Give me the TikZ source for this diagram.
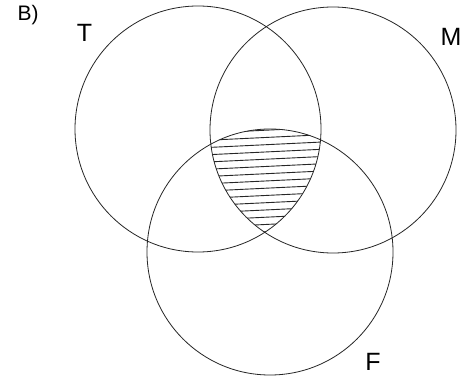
\documentclass[tikz,border=0pt]{standalone}
\usepackage{fontspec}
\setmainfont{Liberation Sans}
\begin{document}
\begin{tikzpicture}[x=1pt,y=-1pt,
  setcircle/.style={circle,draw=black!85,line width=0.8pt,minimum size=246pt,inner sep=0pt},
  biglabel/.style={font=\fontsize{25}{29}\selectfont,inner sep=0pt},
  hatchline/.style={draw=black!85,line width=0.9pt}]
\useasboundingbox (0,0) rectangle (465,377);
\fill[white] (0,0) rectangle (465,377);
% circles
\node[setcircle] (T) at (198,129) {};
\node[setcircle] (M) at (333,130) {};
\node[setcircle] (F) at (270,252) {};
% hatching of T ∩ M ∩ F
\begin{scope}
  \clip (198,129) circle [radius=123pt];
  \clip (333,130) circle [radius=123pt];
  \clip (270,252) circle [radius=123pt];
  \foreach \i in {0,...,15}{
    \draw[hatchline] (180,{123+7.25*\i+85*0.048}) -- (350,{123+7.25*\i-85*0.048});
  }
\end{scope}
% labels
\node[font=\fontsize{21}{25}\selectfont,inner sep=0pt] (B) at (28,15) {B)};
\node[biglabel] (lT) at (84.5,33) {T};
\node[biglabel] (lM) at (451,37) {M};
\node[biglabel] (lF) at (373,362) {F};
\end{tikzpicture}
\end{document}
